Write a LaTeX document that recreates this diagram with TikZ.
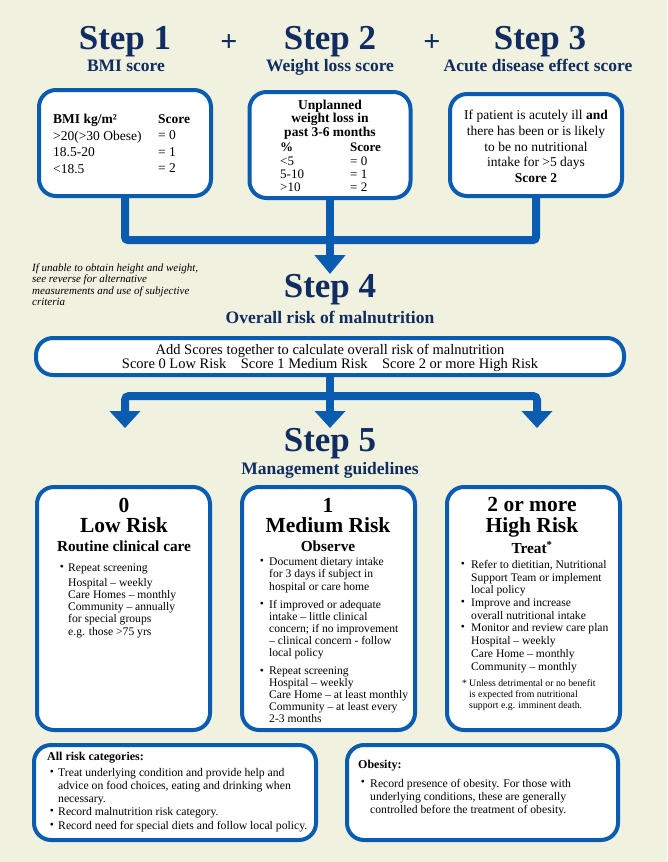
\documentclass[tikz,border=0pt]{standalone}
\usepackage{fontspec}
\setmainfont{Liberation Serif}
\usetikzlibrary{arrows.meta}

\definecolor{cream}{RGB}{240,241,222}
\definecolor{mustblue}{RGB}{10,92,176}
\definecolor{navy}{RGB}{16,44,96}
\newcommand{\fs}[2]{\fontsize{#1}{#2}\selectfont}

\begin{document}
\begin{tikzpicture}[x = 1pt, y = -1pt,
  box/.style = {draw = mustblue, line width = 4pt, fill = white, rounded corners = 17pt, inner sep = 0pt},
  link/.style = {draw = mustblue, line width = 8pt},
  tipA/.style = {-{Triangle[length = 19pt 0 0, width = 30pt 0 0]}},
  tipB/.style = {-{Triangle[length = 17pt 0 0, width = 30pt 0 0]}},
  head/.style = {text = navy, font = \fs{35}{36}\bfseries, anchor = base, inner sep = 0pt},
  sub/.style = {text = navy, font = \fs{17.5}{20}\bfseries, anchor = base, inner sep = 0pt},
  txt/.style = {inner sep = 0pt, anchor = north west, align = left},
  ctxt/.style = {inner sep = 0pt, anchor = north, align = center},
  title/.style = {inner sep = 0pt, anchor = base, font = \fs{21.5}{22}\bfseries},
  bul/.style = {inner sep = 0pt, font = \fs{11.6}{12}}]

\fill[cream] (0, 0) rectangle (667, 862);

% step headings
\node[head] (step1) at (125, 49) {Step 1};
\node[head] (step2) at (330, 49) {Step 2};
\node[head] (step3) at (540, 49) {Step 3};
\node[text = navy, font = \fs{30}{30}\bfseries] (plusA) at (229, 43) {+};
\node[text = navy, font = \fs{30}{30}\bfseries] (plusB) at (432, 43) {+};
\node[sub] (bmiSub) at (126, 71) {BMI score};
\node[sub] (lossSub) at (330, 71) {Weight loss score};
\node[sub] (acuteSub) at (538, 71) {Acute disease effect score};

% score boxes
\node[box, minimum width = 172pt, minimum height = 106pt] (bmi) at (125, 143) {};
\node[box, minimum width = 161pt, minimum height = 106pt] (loss) at (330, 145) {};
\node[box, minimum width = 172pt, minimum height = 102pt] (acute) at (536, 145) {};

\node[txt, font = \fs{13.5}{16.6}] (bmiRange) at (53, 114) {\textbf{BMI kg/m²}\\>20(>30 Obese)\\18.5-20\\<18.5};
\node[txt, font = \fs{13.5}{16.6}] (bmiScore) at (158, 114) {\textbf{Score}\\= 0\\= 1\\= 2};

\node[ctxt, font = \fs{13.5}{13.3}\bfseries] (lossHead) at (330, 100) {Unplanned\\weight loss in\\past 3-6 months};
\node[txt, font = \fs{13}{13.3}] (lossPct) at (280, 143) {\textbf{\%}\\<5\\5-10\\>10};
\node[txt, font = \fs{13}{13.3}] (lossScore) at (350, 143) {\textbf{Score}\\= 0\\= 1\\= 2};

\node[ctxt, font = \fs{13.5}{15.7}] (acuteText) at (536, 110) {If patient is acutely ill \textbf{and}\\there has been or is likely\\to be no nutritional\\intake for >5 days\\\textbf{Score 2}};

% join to step 4
\coordinate (joinA) at (330, 240);
\coordinate (tipTop) at (330, 274);
\draw[link, rounded corners = 3pt] (bmi.south) |- (joinA);
\draw[link, rounded corners = 3pt] (acute.south) |- (joinA);
\draw[link] (loss.south) -- (joinA);
\draw[link, tipA] (joinA) -- (tipTop);

\node[txt, font = \fs{11}{11.4}\itshape] (note) at (32, 263.5) {If unable to obtain height and weight,\\see reverse for alternative\\measurements and use of subjective\\criteria};

\node[head] (step4) at (330, 297) {Step 4};
\node[sub] (step4Sub) at (330, 323) {Overall risk of malnutrition};

\node[box, minimum width = 588pt, minimum height = 37pt] (risk) at (330, 356.5) {};
\node[inner sep = 0pt, align = center, font = \fs{14.5}{14}] (riskText) at (330, 358) {Add Scores together to calculate overall risk of malnutrition\\Score 0 Low Risk\quad Score 1 Medium Risk\quad Score 2 or more High Risk};

% split to step 5
\coordinate (joinB) at (330, 396);
\coordinate (tipL) at (125, 428);
\coordinate (tipM) at (330, 428);
\coordinate (tipR) at (537, 428);
\draw[link] (risk.south) -- (joinB);
\draw[link, rounded corners = 4pt, tipB] (joinB) -| (tipL);
\draw[link, tipB] (joinB) -- (tipM);
\draw[link, rounded corners = 4pt, tipB] (joinB) -| (tipR);

\node[head] (step5) at (330, 451) {Step 5};
\node[sub] (step5Sub) at (330, 474) {Management guidelines};

% management boxes
\node[box, minimum width = 173pt, minimum height = 243pt] (low) at (123.5, 608.5) {};
\node[box, minimum width = 173pt, minimum height = 243pt] (medium) at (328.5, 608.5) {};
\node[box, minimum width = 173pt, minimum height = 243pt] (high) at (533.5, 608.5) {};

\node[title] (lowNum) at (124, 512) {0};
\node[title] (lowName) at (124, 532) {Low Risk};
\node[inner sep = 0pt, anchor = base, font = \fs{15.3}{16}\bfseries] (lowCare) at (124, 551.5) {Routine clinical care};
\node[bul] (lowB1) at (62, 568.3) {\textbullet};
\node[txt, font = \fs{11.6}{12.2}] (lowT1) at (68, 563.6) {Repeat screening\\[2.6pt]Hospital – weekly\\Care Homes – monthly\\Community – annually\\for special groups\\e.g. those >75 yrs};

\node[title] (medNum) at (328, 512) {1};
\node[title] (medName) at (328, 532) {Medium Risk};
\node[inner sep = 0pt, anchor = base, font = \fs{15.3}{16}\bfseries] (medCare) at (328, 551) {Observe};
\node[bul] (medB1) at (262, 561.7) {\textbullet};
\node[txt, font = \fs{11.6}{12.5}] (medT1) at (269, 557) {Document dietary intake\\for 3 days if subject in\\hospital or care home};
\node[bul] (medB2) at (262, 605) {\textbullet};
\node[txt, font = \fs{11.6}{12}] (medT2) at (269, 600.4) {If improved or adequate\\intake – little clinical\\concern; if no improvement\\– clinical concern - follow\\local policy};
\node[bul] (medB3) at (262, 671.7) {\textbullet};
\node[txt, font = \fs{11.6}{12}] (medT3) at (269, 667) {Repeat screening\\Hospital – weekly\\Care Home – at least monthly\\Community – at least every\\2-3 months};

\node[title] (highNum) at (532, 511) {2 or more};
\node[title] (highName) at (532, 532) {High Risk};
\node[inner sep = 0pt, anchor = base, font = \fs{15.3}{16}\bfseries] (highCare) at (532, 553.5) {Treat\textsuperscript{*}};
\node[bul] (highB1) at (463, 565) {\textbullet};
\node[txt, font = \fs{11.6}{12.5}] (highT1) at (471, 560.4) {Refer to dietitian, Nutritional\\Support Team or implement\\local policy};
\node[bul] (highB2) at (463, 603) {\textbullet};
\node[txt, font = \fs{11.6}{13}] (highT2) at (471, 598.4) {Improve and increase\\overall nutritional intake};
\node[bul] (highB3) at (463, 628) {\textbullet};
\node[txt, font = \fs{11.6}{13}] (highT3) at (471, 623.4) {Monitor and review care plan\\Hospital – weekly\\Care Home – monthly\\Community – monthly};
\node[txt, font = \fs{9.8}{11}] (highStar) at (462, 679.5) {*};
\node[txt, font = \fs{9.8}{11}] (highNote) at (469, 679) {Unless detrimental or no benefit\\is expected from nutritional\\support e.g. imminent death.};

% general advice
\node[box, minimum width = 282pt, minimum height = 95pt] (allRisk) at (175, 792.5) {};
\node[box, minimum width = 271pt, minimum height = 95pt] (obesity) at (482.5, 792.5) {};

\node[txt, font = \fs{12}{13}\bfseries] (allHead) at (47, 752) {All risk categories:};
\node[bul] (allB1) at (52, 773.3) {\textbullet};
\node[txt, font = \fs{11.7}{13}] (allT1) at (58, 768.6) {Treat underlying condition and provide help and\\advice on food choices, eating and drinking when\\necessary.};
\node[bul] (allB2) at (52, 811.7) {\textbullet};
\node[txt, font = \fs{11.7}{13}] (allT2) at (58, 807) {Record malnutrition risk category.};
\node[bul] (allB3) at (52, 826) {\textbullet};
\node[txt, font = \fs{11.7}{13}] (allT3) at (58, 821.3) {Record need for special diets and follow local policy.};

\node[txt, font = \fs{12}{13}\bfseries] (obHead) at (358, 760) {Obesity:};
\node[bul] (obB1) at (363, 783.3) {\textbullet};
\node[txt, font = \fs{11.7}{13.4}] (obT1) at (370, 778.6) {Record presence of obesity. For those with\\underlying conditions, these are generally\\controlled before the treatment of obesity.};
\end{tikzpicture}
\end{document}
